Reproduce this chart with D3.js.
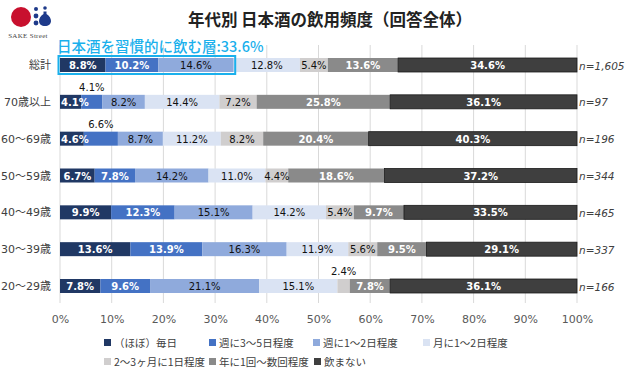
<!DOCTYPE html>
<html>
<head>
<meta charset="utf-8">
<script src="https://cdn.jsdelivr.net/npm/d3@7"></script>
<style>
  body { margin: 0; background: #fff; }
  svg { display: block; font-family: "DejaVu Sans", "Noto Sans CJK JP", sans-serif; }
</style>
</head>
<body>
<div id="container"></div>
<script>
// ---- data ----
const categories = ["総計", "70歳以上", "60～69歳", "50～59歳", "40～49歳", "30～39歳", "20～29歳"];
const seriesNames = ["（ほぼ）毎日", "週に3～5日程度", "週に1～2日程度", "月に1～2日程度", "2～3ヶ月に1日程度", "年に1回～数回程度", "飲まない"];
const daily = [8.8, 4.1, 4.6, 6.7, 9.9, 13.6, 7.8];
const week35 = [10.2, 4.1, 6.6, 7.8, 12.3, 13.9, 9.6];
const week12 = [14.6, 8.2, 8.7, 14.2, 15.1, 16.3, 21.1];
const month12 = [12.8, 14.4, 11.2, 11.0, 14.2, 11.9, 15.1];
const months23 = [5.4, 7.2, 8.2, 4.4, 5.4, 5.6, 2.4];
const yearly = [13.6, 25.8, 20.4, 18.6, 9.7, 9.5, 7.8];
const never = [34.6, 36.1, 40.3, 37.2, 33.5, 29.1, 36.1];
const sampleSizes = ["1,605", "97", "196", "344", "465", "337", "166"];
const xTicks = [0, 0.1, 0.2, 0.3, 0.4, 0.5, 0.6, 0.7, 0.8, 0.9, 1];
const habitualLabel = "日本酒を習慣的に飲む層:33.6%";
// labels drawn above the bar: [series index, row index]
const raisedLabels = [[1, 1], [1, 2], [4, 6]];

const colors = ["#203864", "#4472c4", "#8faadc", "#dae3f3", "#d0cece", "#8a8a8a", "#3f3f3f"];
const whiteText = [true, true, false, false, false, true, true];

// ---- layout ----
const width = 630, height = 376;
const barH = 14;
const allSeries = [daily, week35, week12, month12, months23, yearly, never];
const table = categories.map((c, i) => {
  const row = { cat: c };
  allSeries.forEach((s, k) => (row[k] = s[i]));
  return row;
});
const keys = allSeries.map((s, k) => k);
const stacked = d3.stack().keys(keys).offset(d3.stackOffsetExpand)(table);

const x = d3.scaleLinear().domain([0, 1]).range([60, 577]);
const y = d3.scalePoint().domain(categories).range([65, 286]);

const svg = d3.select("#container").append("svg")
  .attr("width", width).attr("height", height);

// logo
const logo = svg.append("g");
logo.append("circle").attr("cx", 21).attr("cy", 17).attr("r", 10).attr("fill", "#c8102e");
[[36, 9, 2], [36, 16, 2.4], [36, 23, 2.4], [45, 8, 1.8]].forEach(d => {
  logo.append("circle").attr("cx", d[0]).attr("cy", d[1]).attr("r", d[2]).attr("fill", "#1e3a8a");
});
logo.append("path")
  .attr("d", "M43.5,11.5 L46.5,11.5 L46.5,14 C49.5,16 51,18.5 51,21 C51,24 48.5,26 45,26 C41.5,26 39,24 39,21 C39,18.5 40.5,16 43.5,14 Z")
  .attr("fill", "#1e3a8a");
logo.append("text").attr("x", 28).attr("y", 38).attr("text-anchor", "middle")
  .style("font-family", "'Liberation Serif', serif").style("font-size", "7px")
  .style("letter-spacing", "0.3px").attr("fill", "#444").text("SAKE Street");

// title
svg.append("text").attr("x", 330).attr("y", 26).attr("text-anchor", "middle")
  .style("font-family", "'Noto Sans CJK JP', sans-serif")
  .style("font-size", "16.5px").style("font-weight", "bold").attr("fill", "#222")
  .text("年代別 日本酒の飲用頻度（回答全体）");

// grid
svg.append("g").selectAll("line").data(xTicks).join("line")
  .attr("x1", d => x(d)).attr("x2", d => x(d))
  .attr("y1", 45).attr("y2", 303)
  .attr("stroke", "#d9d9d9").attr("stroke-width", 1);

// x axis
const gX = svg.append("g").attr("transform", "translate(0,312)")
  .call(d3.axisBottom(x).tickValues(xTicks).tickFormat(d3.format(".0%")).tickSize(0));
gX.select(".domain").remove();
gX.selectAll(".tick text").style("font-size", "11px").style("font-family", "'DejaVu Sans', sans-serif")
  .attr("fill", "#595959");

// category labels
svg.append("g").selectAll("text").data(categories).join("text")
  .attr("x", 51).attr("y", d => y(d) + 4).attr("text-anchor", "end")
  .style("font-size", "11px").attr("fill", "#404040").text(d => d);

// bars
const gBars = svg.append("g");
stacked.forEach((layer, k) => {
  gBars.append("g").selectAll("rect").data(layer).join("rect")
    .attr("x", d => x(d[0]))
    .attr("y", d => y(d.data.cat) - barH / 2)
    .attr("width", d => x(d[1]) - x(d[0]))
    .attr("height", barH)
    .attr("fill", colors[k])
    .attr("stroke", k === 6 ? "#1a1a1a" : "none")
    .attr("stroke-width", 0.8);
});

// segment labels
const gLabels = svg.append("g");
stacked.forEach((layer, k) => {
  layer.forEach((d, i) => {
    const raised = raisedLabels.some(r => r[0] === k && r[1] === i);
    const cx = (x(d[0]) + x(d[1])) / 2;
    const t = gLabels.append("text")
      .attr("x", cx)
      .attr("y", raised ? y(d.data.cat) - 11 : y(d.data.cat) + 4)
      .attr("text-anchor", "middle")
      .style("font-size", "10px")
      .style("font-weight", whiteText[k] && !raised ? "bold" : "normal")
      .attr("fill", whiteText[k] && !raised ? "#fff" : "#111")
      .text(d3.format(".1f")(allSeries[k][i]) + "%");
    // keep narrow first-segment labels inside the plot
    const w = t.node().getComputedTextLength();
    if (cx - w / 2 < x(0) + 1) t.attr("x", x(0) + 1 + w / 2);
  });
});

// n labels
svg.append("g").selectAll("text").data(categories).join("text")
  .attr("x", 579).attr("y", d => y(d) + 4.5)
  .style("font-size", "10.5px").style("font-style", "italic").attr("fill", "#404040")
  .text((d, i) => "n=" + sampleSizes[i]);

// habitual drinkers highlight
const hiEnd = stacked[2][0][1];
svg.append("rect")
  .attr("x", x(0) - 1.5).attr("y", y(categories[0]) - barH / 2 - 2)
  .attr("width", x(hiEnd) - x(0) + 3).attr("height", barH + 4)
  .attr("fill", "none").attr("stroke", "#1ab0ec").attr("stroke-width", 2);
svg.append("text").attr("x", 57).attr("y", 51.5)
  .style("font-size", "14.5px").style("font-family", "'Noto Sans CJK JP', sans-serif")
  .style("font-weight", "500").attr("fill", "#1ab0ec").text(habitualLabel);

// legend
const legendPos = [[108, 343], [213, 343], [317, 343], [427, 343], [108, 362], [213, 362], [318, 362]];
const gLeg = svg.append("g");
seriesNames.forEach((name, k) => {
  const p = legendPos[k];
  gLeg.append("rect").attr("x", p[0] - 4).attr("y", p[1] - 4).attr("width", 7).attr("height", 7)
    .attr("fill", colors[k]);
  gLeg.append("text").attr("x", p[0] + 6).attr("y", p[1] + 4)
    .style("font-size", "10.5px").style("font-family", "'Noto Sans CJK JP', sans-serif")
    .attr("fill", "#404040").text(name);
});
</script>
</body>
</html>
